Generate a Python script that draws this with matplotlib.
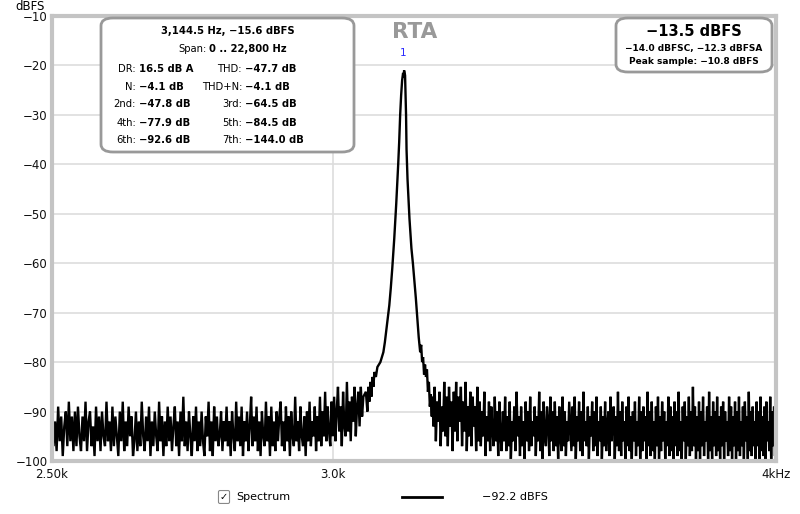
import numpy as np
import matplotlib
matplotlib.use('Agg')
import matplotlib.pyplot as plt
from matplotlib.patches import FancyBboxPatch
from matplotlib.ticker import FixedLocator, NullLocator

# Spectrum levels (dBFS)
# left noise floor, bins 2500..3060 Hz every 2.5 Hz
left_noise = [
    -90, -97, -92, -98, -89, -96, -91, -99, -93, -90, -97, -88, -96, -91, -98, -90, -97, -89, -95, -98,
    -91, -96, -88, -98, -92, -90, -97, -93, -99, -89, -96, -91, -98, -90, -95, -97, -88, -96, -92, -98,
    -89, -97, -91, -95, -99, -90, -96, -88, -98, -92, -97, -89, -95, -91, -99, -96, -90, -98, -92, -97,
    -88, -95, -98, -91, -96, -89, -99, -92, -97, -90, -95, -98, -88, -96, -91, -99, -92, -97, -89, -96,
    -91, -98, -93, -89, -97, -92, -99, -90, -96, -87, -97, -92, -98, -90, -95, -99, -91, -96, -89, -98,
    -92, -97, -90, -96, -99, -91, -95, -88, -98, -92, -99, -89, -96, -91, -97, -95, -90, -98, -92, -96,
    -89, -97, -92, -99, -90, -95, -98, -88, -96, -91, -97, -89, -99, -92, -96, -90, -98, -93, -87, -97,
    -91, -96, -89, -98, -92, -99, -90, -95, -97, -88, -96, -91, -99, -89, -97, -92, -98, -90, -96, -91,
    -88, -97, -92, -98, -89, -96, -91, -99, -90, -95, -97, -87, -96, -92, -98, -89, -95, -97, -91, -99,
    -90, -96, -88, -97, -92, -95, -89, -98, -91, -96, -87, -97, -90, -95, -86, -96, -89, -94, -97, -88,
    -95, -87, -96, -90, -85, -94, -89, -97, -86, -93, -95, -84, -94, -88, -96, -87, -92, -85, -95, -89,
    -86, -93, -85, -91, -87,
]

# the tone itself
peak_freq = [3065, 3068, 3070, 3072, 3074, 3076, 3078, 3080, 3082, 3085,
             3088, 3091, 3094, 3097, 3100, 3103, 3106, 3109, 3112, 3115,
             3118, 3120, 3122, 3124, 3126, 3128, 3130, 3132, 3134, 3136,
             3138, 3140, 3141, 3142, 3144, 3146, 3147, 3149, 3151, 3153,
             3155, 3157, 3160, 3163, 3166, 3169, 3172, 3175, 3177, 3179,
             3181, 3183, 3185, 3187, 3189, 3191, 3193, 3195, 3197, 3199]
peak_level = [-86, -90, -85, -88, -84, -87, -83, -85, -82, -83,
              -81, -80.5, -80, -79, -78, -76, -73.5, -71, -68.5, -65,
              -61, -58, -55, -51.5, -48, -44, -40, -35.5, -30, -26,
              -23, -21.5, -22.5, -21, -22, -30, -37, -43, -47, -51,
              -54, -57, -60, -63.5, -67, -71, -75, -78, -76.5, -80,
              -79, -82.5, -80.5, -83, -81.5, -86, -84, -89, -86.5, -91]

# right noise floor, bins 3200..4000 Hz every 2.5 Hz
right_noise = [
    -87, -93, -85, -96, -88, -92, -86, -97, -89, -94, -84, -95, -87, -97, -85, -93, -88, -98, -86, -94,
    -84, -96, -87, -92, -85, -97, -88, -94, -84, -98, -89, -95, -86, -97, -87, -93, -89, -98, -85, -96,
    -88, -97, -90, -95, -86, -99, -91, -96, -88, -98, -89, -94, -97, -87, -96, -90, -99, -88, -95, -98,
    -90, -96, -87, -98, -91, -97, -88, -100, -92, -96, -89, -98, -86, -95, -91, -99, -89, -97, -92, -100,
    -88, -96, -90, -98, -87, -97, -92, -95, -89, -99, -91, -96, -86, -98, -90, -100, -88, -95, -97, -89,
    -92, -99, -87, -96, -90, -98, -88, -97, -91, -100, -89, -95, -98, -87, -97, -90, -99, -92, -96, -88,
    -93, -98, -89, -97, -87, -100, -91, -96, -88, -98, -90, -99, -86, -96, -92, -97, -89, -100, -91, -95,
    -88, -98, -90, -97, -87, -99, -92, -96, -89, -100, -91, -97, -88, -98, -93, -90, -99, -87, -96, -92,
    -89, -100, -91, -97, -86, -98, -90, -99, -88, -96, -92, -100, -89, -97, -87, -98, -91, -100, -90, -96,
    -88, -99, -92, -97, -87, -100, -90, -98, -89, -96, -91, -100, -86, -97, -90, -99, -88, -98, -92, -100,
    -89, -97, -87, -100, -91, -98, -88, -96, -90, -100, -92, -97, -87, -99, -89, -98, -91, -100, -88, -97,
    -90, -99, -86, -98, -92, -100, -89, -96, -88, -100, -91, -97, -87, -99, -90, -98, -85, -97, -89, -100,
    -91, -98, -88, -100, -90, -97, -87, -99, -92, -96, -89, -100, -86, -98, -91, -100, -88, -97, -90, -99,
    -87, -98, -91, -100, -89, -97, -88, -100, -90, -96, -92, -99, -87, -98, -89, -100, -91, -97, -88, -100,
    -90, -98, -87, -99, -92, -97, -89, -100, -88, -96, -91, -100, -86, -98, -90, -99, -89, -97, -92, -100,
    -88, -97, -90, -100, -87, -98, -91, -99, -89, -100, -88, -96, -92, -98, -87, -100, -90, -97, -89, -99,
    -91,
]

y_ticks = [-10, -20, -30, -40, -50, -60, -70, -80, -90, -100]
x_ticks = [2500, 3000, 4000]
x_labels = ['2.50k', '3.0k', '4kHz']

left_box_rows = [('DR:', '16.5 dB A', 'THD:', '\u221247.7 dB'),
                 ('N:', '\u22124.1 dB', 'THD+N:', '\u22124.1 dB'),
                 ('2nd:', '\u221247.8 dB', '3rd:', '\u221264.5 dB'),
                 ('4th:', '\u221277.9 dB', '5th:', '\u221284.5 dB'),
                 ('6th:', '\u221292.6 dB', '7th:', '\u2212144.0 dB')]

freq = np.concatenate([np.arange(2500, 3061, 2.5), peak_freq, np.arange(3200, 4001, 2.5)])
level = np.concatenate([left_noise, peak_level, right_noise])

fig = plt.figure(figsize=(8, 5.14), dpi=100)
ax = fig.add_axes([52/800, 1-461/514, 724/800, 445/514])

ax.semilogx(freq, level, color='black', linewidth=1.7, solid_joinstyle='miter')
ax.set_xlim(2500, 4000)
ax.set_ylim(-100, -10)

ax.xaxis.set_major_locator(FixedLocator(x_ticks))
ax.xaxis.set_minor_locator(NullLocator())
ax.set_xticklabels(x_labels)
ax.set_yticks(y_ticks)
ax.set_yticklabels([str(t).replace('-', '\u2212') for t in y_ticks])
ax.tick_params(length=0, labelsize=8.5, colors='#111111')
ax.tick_params(axis='y', pad=3)
ax.tick_params(axis='x', pad=5)

ax.grid(True, color='#dddddd', linewidth=1.2)
ax.set_axisbelow(True)
for s in ax.spines.values():
    s.set_color('#c4c4c4')
    s.set_linewidth(3)

fig.text(30/800, 1-6/514, 'dBFS', fontsize=8.5, ha='center', va='center')

# peak marker
ax.text(3141, -17.5, '1', color='#2a2aff', fontsize=7.5, ha='center', va='center')

# title
fig.text(415/800, 1-32/514, 'RTA', fontsize=15.5, fontweight='bold', color='#999999',
         ha='center', va='center')

# info boxes
def box(x0, y0, x1, y1):
    p = FancyBboxPatch((x0/800, 1-y1/514), (x1-x0)/800, (y1-y0)/514,
                       boxstyle='round,pad=0,rounding_size=0.015',
                       transform=fig.transFigure, facecolor='white',
                       edgecolor='#999999', linewidth=2, zorder=5)
    fig.patches.append(p)

def t(x, y, s, **kw):
    kw.setdefault('fontsize', 7.2)
    kw.setdefault('va', 'center')
    fig.text(x/800, 1-y/514, s, zorder=6, **kw)

box(101, 18, 354, 152)
t(228, 31, '3,144.5 Hz, \u221215.6 dBFS', ha='center', fontweight='bold')
t(207, 49.5, 'Span:', ha='right')
t(209, 49.5, '0 .. 22,800 Hz', ha='left', fontweight='bold')
row_y = [68.5, 86.5, 104.5, 122.5, 140.5]
for (l1, v1, l2, v2), yy in zip(left_box_rows, row_y):
    t(136, yy, l1, ha='right')
    t(139, yy, v1, ha='left', fontweight='bold')
    t(242, yy, l2, ha='right')
    t(245, yy, v2, ha='left', fontweight='bold')

box(616, 18, 772, 72)
t(694, 31, '\u221213.5 dBFS', ha='center', fontsize=10.5, fontweight='bold')
t(694, 48, '\u221214.0 dBFSC, \u221212.3 dBFSA', ha='center', fontsize=6.5, fontweight='bold')
t(694, 62, 'Peak sample: \u221210.8 dBFS', ha='center', fontsize=6.5, fontweight='bold')

# legend row
t(224, 497, '\u2713', ha='center', fontsize=7,
  bbox=dict(boxstyle='round,pad=0.15', facecolor='white', edgecolor='#888888', linewidth=0.8))
t(236, 497, 'Spectrum', ha='left', fontsize=8)
fig.add_artist(plt.Line2D([402/800, 442/800], [1-497/514, 1-497/514],
                          color='black', linewidth=2, transform=fig.transFigure))
t(482, 497, '\u221292.2 dBFS', ha='left', fontsize=8)

fig.savefig('out.png', dpi=100)
